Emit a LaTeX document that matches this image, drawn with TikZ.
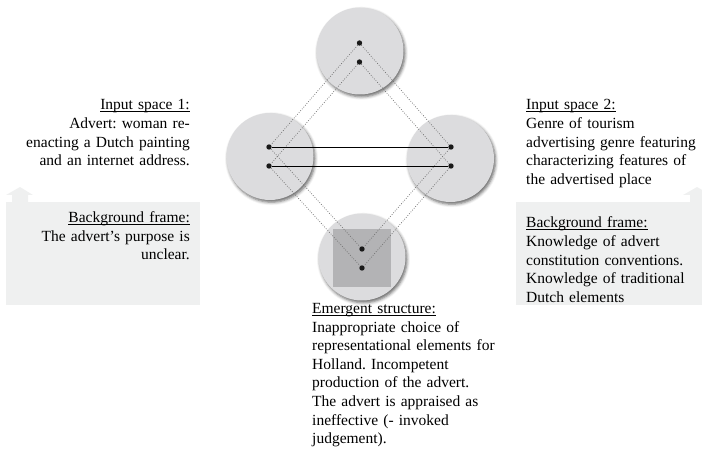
\documentclass[tikz,border=0pt]{standalone}
\usepackage{fontspec}
\setmainfont{Liberation Serif}
\usetikzlibrary{shadows.blur}
\frenchspacing
\newcommand{\hdul}[1]{\underline{\smash{#1}}}
\definecolor{circfill}{HTML}{DCDCDE}
\definecolor{sqfill}{HTML}{B3B3B5}
\definecolor{boxfill}{HTML}{EFF0F0}
\definecolor{dotgray}{HTML}{707070}
\tikzset{
  txt/.style={inner sep=0pt, font=\fontsize{15.5}{18.6}\selectfont},
  space/.style={circle, minimum size=87pt, inner sep=0pt, fill=circfill,
    blur shadow={shadow xshift=1.5pt, shadow yshift=-2.2pt, shadow blur radius=3pt, shadow opacity=60}},
  pt/.style={circle, fill=black!90, minimum size=5.4pt, inner sep=0pt},
  dotline/.style={dotgray, line width=0.7pt, dash pattern=on 0.8pt off 1.6pt},
  solidline/.style={black, line width=0.9pt}
}
\begin{document}
\begin{tikzpicture}[x=1pt,y=-1pt]
\useasboundingbox (0,0) rectangle (702,454);
% background frames with up arrows
\fill[boxfill] (6,202) rectangle (200,305);
\fill[boxfill] (6,195) -- (20,187) -- (33,195) -- (28,195) -- (28,202.5) -- (12,202.5) -- (12,195) -- cycle;
\fill[boxfill] (516,202) rectangle (702,305);
\fill[boxfill] (683,195) -- (697,187) -- (711,195) -- (704,195) -- (704,202.5) -- (690,202.5) -- (690,195) -- cycle;
% mental spaces
\node[space] (ctop) at (360,51) {};
\node[space] (cleft) at (270,156.5) {};
\node[space] (cright) at (450.5,158.5) {};
\node[space] (cbot) at (362,257) {};
\node[fill=sqfill, minimum size=58pt, inner sep=0pt] (sq) at (362,258) {};
% elements
\node[pt] (t1) at (359.5,43) {};
\node[pt] (t2) at (359.5,62) {};
\node[pt] (l1) at (269,147) {};
\node[pt] (l2) at (269,166) {};
\node[pt] (r1) at (451,147) {};
\node[pt] (r2) at (451,166) {};
\node[pt] (b1) at (362,249) {};
\node[pt] (b2) at (362,268) {};
% projections
\draw[dotline] (t1) -- (l1);
\draw[dotline] (t2) -- (l2);
\draw[dotline] (t1) -- (r1);
\draw[dotline] (t2) -- (r2);
\draw[dotline] (l1) -- (b1);
\draw[dotline] (l2) -- (b2);
\draw[dotline] (r1) -- (b1);
\draw[dotline] (r2) -- (b2);
% cross-space mappings
\draw[solidline] (l1) -- (r1);
\draw[solidline] (l2) -- (r2);
% texts
\node[txt, text width=185pt, align=right, anchor=base east] (in1) at (190,110)
  {\hdul{Input space 1:}\\Advert: woman re-\\enacting a Dutch painting\\and an internet address.};
\node[txt, text width=185pt, align=right, anchor=base east] (bg1) at (190,222.5)
  {\hdul{Background frame:}\\The advert’s purpose is\\unclear.};
\node[txt, text width=220pt, align=left, anchor=base west] (in2) at (526,110)
  {\hdul{Input space 2:}\\Genre of tourism\\advertising genre featuring\\characterizing features of\\the advertised place};
\node[txt, text width=220pt, align=left, anchor=base west] (bg2) at (526,228)
  {\hdul{Background frame:}\\Knowledge of advert\\constitution conventions.\\Knowledge of traditional\\Dutch elements};
\node[txt, text width=220pt, align=left, anchor=base west] (em) at (312,313.5)
  {\hdul{Emergent structure:}\\Inappropriate choice of\\representational elements for\\Holland. Incompetent\\production of the advert.\\The advert is appraised as\\ineffective (- invoked\\judgement).};
\end{tikzpicture}
\end{document}
